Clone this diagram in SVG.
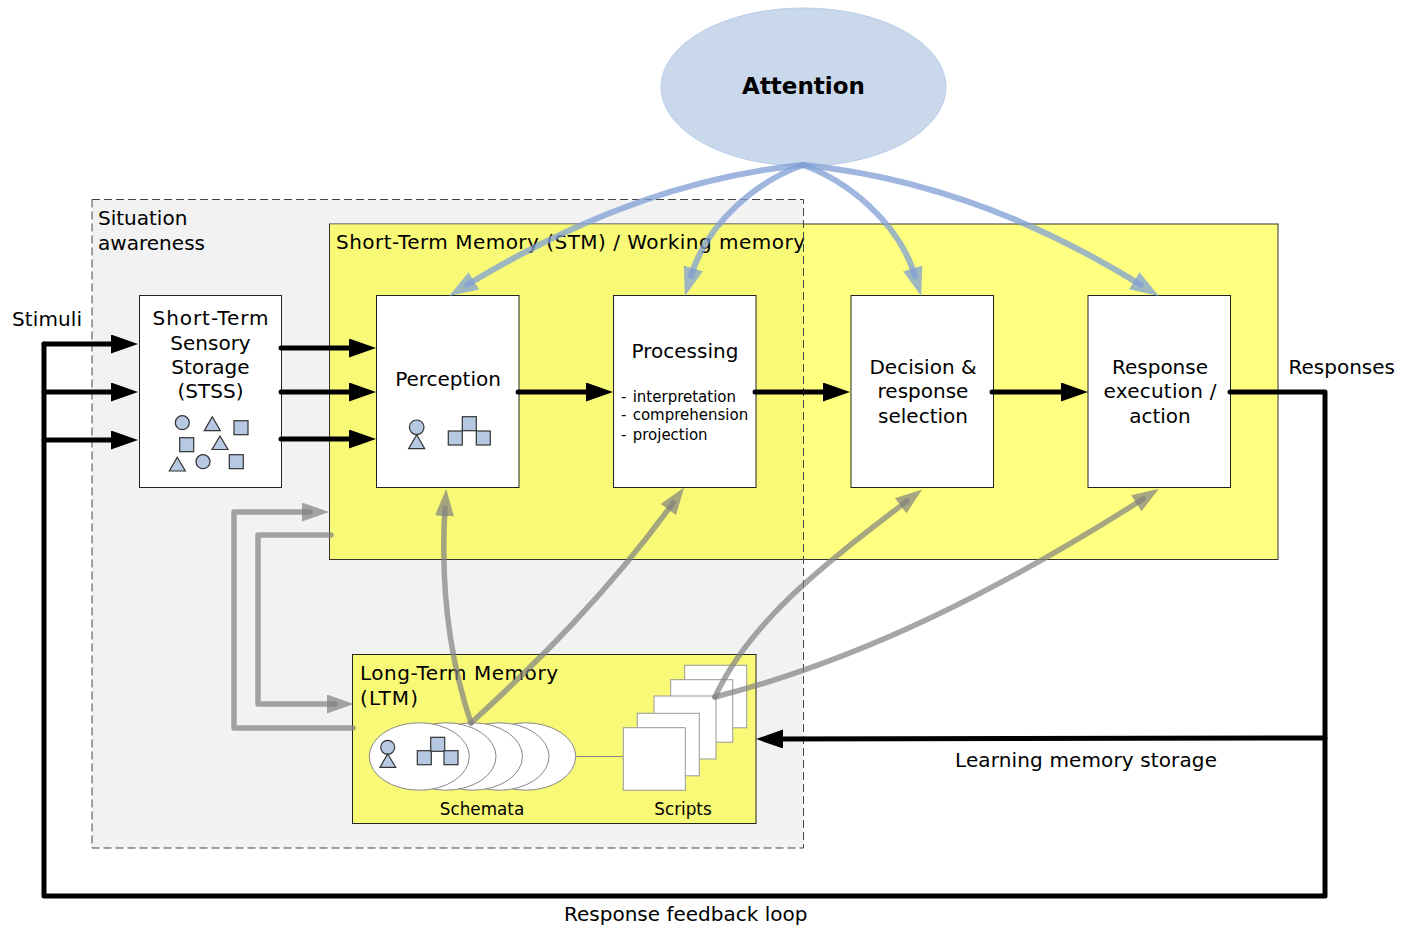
<svg xmlns="http://www.w3.org/2000/svg" width="1406" height="926" viewBox="0 0 1406 926">
<style>
text{font-family:"DejaVu Sans","Liberation Sans",sans-serif;font-size:20px;fill:#000}
.m{text-anchor:middle}
.s{font-size:15px;word-spacing:1.500px}
.t{font-size:16.800px}
.box{fill:#fff;stroke:#222;stroke-width:1}
.g{fill:#b6c8e2;stroke:#333;stroke-width:1.200}
.e{fill:#fff;stroke:#888;stroke-width:1}
.p{fill:#fff;stroke:#999;stroke-width:1}
.k{fill:none;stroke:#000;stroke-width:5;stroke-linecap:round;stroke-linejoin:round}
.a{fill:none;stroke:#808080;stroke-width:5.500;stroke-opacity:.7;stroke-linecap:round;stroke-linejoin:round;marker-end:url(#ga)}
.b{fill:none;stroke:#7f9fd4;stroke-width:6;stroke-opacity:.75;stroke-linecap:round;marker-end:url(#ba)}
.ka{marker-end:url(#ka)}
</style>
<defs>
<marker id="ka" markerUnits="userSpaceOnUse" markerWidth="30" markerHeight="20" refX="7" refY="9.500" orient="auto"><path d="M0,0L27,9.500L0,19z" fill="#000"/></marker>
<marker id="ga" markerUnits="userSpaceOnUse" markerWidth="30" markerHeight="20" refX="8" refY="9.500" orient="auto"><path d="M0,0L27,9.500L0,19z" fill="#808080" fill-opacity=".7"/></marker>
<marker id="ba" markerUnits="userSpaceOnUse" markerWidth="30" markerHeight="24" refX="8" refY="10" orient="auto"><path d="M0,0L29,10L0,20z" fill="#7f9fd4" fill-opacity=".75"/></marker>
</defs>
<rect width="1406" height="926" fill="#fff"/>
<g id="situation-awareness">
<rect x="92" y="199.500" width="711.500" height="648.500" fill="#f2f2f2"/>
</g>
<g id="stm">
<rect x="329.500" y="224" width="948.500" height="335.500" fill="#ffff80" stroke="#333" stroke-width="1"/>
<rect x="330" y="224.500" width="473.500" height="334.500" fill="#f9f978"/>
<text x="336" y="249" textLength="469">Short-Term Memory (STM) / Working memory</text>
</g>
<g id="situation-awareness-outline">
<rect x="92" y="199.500" width="711.500" height="648.500" fill="none" stroke="#444" stroke-width="1" stroke-dasharray="8 4"/>
<text x="98" y="225">Situation</text>
<text x="98" y="250" textLength="107">awareness</text>
</g>
<g id="attention">
<ellipse cx="803.500" cy="87" rx="142.500" ry="79" fill="#c9d8ea" stroke="#b8cde8" stroke-width="1"/>
<text x="803.500" y="94" class="m" style="font-size:23px;font-weight:bold">Attention</text>
</g>
<g id="stss">
<rect class="box" x="139.500" y="295.500" width="142" height="192"/>
<text class="m" x="210.500" y="325" textLength="116">Short-Term</text>
<text class="m" x="210.500" y="350">Sensory</text>
<text class="m" x="210.500" y="374">Storage</text>
<text class="m" x="210.500" y="398">(STSS)</text>
<circle class="g" cx="182.300" cy="422.700" r="7"/>
<path class="g" d="M212.300,416.700L220.300,430.700H204.300z"/>
<rect class="g" x="234" y="420.700" width="14" height="14"/>
<rect class="g" x="179.700" y="437.700" width="14" height="14"/>
<path class="g" d="M220,436L228,449.500H212z"/>
<path class="g" d="M177.300,457.300L185.300,471H169.300z"/>
<circle class="g" cx="203" cy="461.700" r="7"/>
<rect class="g" x="229.300" y="454.700" width="14" height="14"/>
</g>
<g id="perception">
<rect class="box" x="376.500" y="295.500" width="142.500" height="192"/>
<text class="m" x="448" y="386">Perception</text>
<circle class="g" cx="416.700" cy="427.300" r="7.300"/>
<path class="g" d="M416.700,434.700L424.700,448.700H408.700z"/>
<rect class="g" x="448.300" y="431" width="14" height="14"/>
<rect class="g" x="462.300" y="416.700" width="14" height="14"/>
<rect class="g" x="476.300" y="431" width="14" height="14"/>
</g>
<g id="processing">
<rect class="box" x="613.500" y="295.500" width="142.500" height="192"/>
<text class="m" x="685" y="358">Processing</text>
<text class="s" x="621" y="402">- interpretation</text>
<text class="s" x="621" y="420">- comprehension</text>
<text class="s" x="621" y="440">- projection</text>
</g>
<g id="decision">
<rect class="box" x="851" y="295.500" width="142.500" height="192"/>
<text class="m" x="923" y="374">Decision &amp;</text>
<text class="m" x="923" y="398">response</text>
<text class="m" x="923" y="423">selection</text>
</g>
<g id="response">
<rect class="box" x="1088" y="295.500" width="142.500" height="192"/>
<text class="m" x="1160" y="374">Response</text>
<text class="m" x="1160" y="398" textLength="113">execution /</text>
<text class="m" x="1160" y="423">action</text>
</g>
<g id="ltm">
<rect x="352.500" y="654.500" width="403.500" height="169" fill="#f9f978" stroke="#222" stroke-width="1"/>
<text x="360" y="680" textLength="198">Long-Term Memory</text>
<text x="360" y="705" textLength="58">(LTM)</text>
<path d="M575.700,756.500H623" stroke="#888" fill="none"/>
</g>
<g id="schemata">
<ellipse class="e" cx="525.700" cy="756.500" rx="50" ry="33.700"/>
<ellipse class="e" cx="499" cy="756.500" rx="50" ry="33.700"/>
<ellipse class="e" cx="472.500" cy="756.500" rx="50" ry="33.700"/>
<ellipse class="e" cx="446" cy="756.500" rx="50" ry="33.700"/>
<ellipse class="e" cx="419.300" cy="756.500" rx="50" ry="33.700"/>
<circle class="g" cx="387.700" cy="747.300" r="7"/>
<path class="g" d="M387.700,754L395.700,767.300H380z"/>
<rect class="g" x="417.300" y="750.700" width="14" height="14"/>
<rect class="g" x="430.700" y="737.300" width="14" height="14"/>
<rect class="g" x="444" y="750.700" width="14" height="14"/>
<text class="m t" x="482" y="815">Schemata</text>
</g>
<g id="scripts">
<rect class="p" x="684.700" y="665.300" width="62" height="62.500"/>
<rect class="p" x="670.700" y="679.700" width="62" height="62.500"/>
<rect class="p" x="654" y="696" width="62" height="63"/>
<rect class="p" x="637.300" y="713.300" width="62" height="62.500"/>
<rect class="p" x="623.300" y="727.700" width="62" height="62.500"/>
<text class="m t" x="683" y="815">Scripts</text>
</g>
<g id="connectors">
<path class="b" d="M803,165C700,175 590,210 467,285"/>
<path class="b" d="M803,165C760,180 708,220 691,276"/>
<path class="b" d="M803,165C845,180 898,220 915,276"/>
<path class="b" d="M803,165C905,175 1020,210 1141,285"/>
<path class="a" d="M471,723C450,660 440,590 445,508"/>
<path class="a" d="M471,723C540,660 610,590 673,503"/>
<path class="a" d="M715,697C750,620 830,560 907,501"/>
<path class="a" d="M715,697C860,660 1000,590 1143,499"/>
<path class="a" d="M353,728H234V512H310"/>
<path class="a" d="M331,535H258V704H335"/>
<path class="k ka" d="M44,344H118"/>
<path class="k ka" d="M44,392H118"/>
<path class="k ka" d="M44,440H118"/>
<path class="k" d="M1230,392H1325V896H44V344"/>
<path class="k ka" d="M281,348H356"/>
<path class="k ka" d="M281,392H356"/>
<path class="k ka" d="M281,439H356"/>
<path class="k ka" d="M518,392H593"/>
<path class="k ka" d="M755,392H830"/>
<path class="k ka" d="M992,392H1068"/>
<path class="k ka" d="M1325,738L776,739"/>
</g>
<g id="labels">
<text x="12" y="326" textLength="70">Stimuli</text>
<text x="1288.500" y="374">Responses</text>
<text x="955" y="767" textLength="262">Learning memory storage</text>
<text x="564" y="921">Response feedback loop</text>
</g>
</svg>
